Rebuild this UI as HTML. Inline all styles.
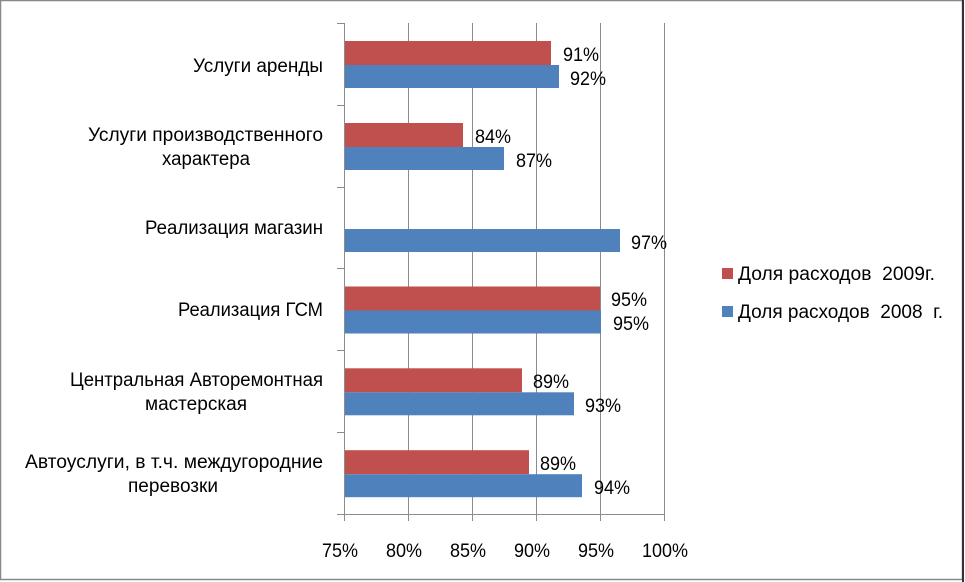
<!DOCTYPE html>
<html><head><meta charset="utf-8"><style>body{margin:0;background:#fff}svg{display:block}text{font-family:"Liberation Sans",sans-serif;fill:#000}</style></head><body>
<svg width="965" height="582" xmlns="http://www.w3.org/2000/svg">
<rect x="0.5" y="0.5" width="962" height="579" fill="#fff" stroke="#888" stroke-width="1.5"/>
<line x1="963" y1="0" x2="963" y2="582" stroke="#333" stroke-width="2"/>
<g stroke="#8c8c8c" stroke-width="1">
<line x1="408.5" y1="23" x2="408.5" y2="521"/><line x1="472.5" y1="23" x2="472.5" y2="521"/><line x1="536.5" y1="23" x2="536.5" y2="521"/><line x1="600.5" y1="23" x2="600.5" y2="521"/><line x1="664.5" y1="23" x2="664.5" y2="521"/>
<line x1="344.5" y1="23" x2="344.5" y2="521"/>
<line x1="337" y1="23.5" x2="345" y2="23.5"/><line x1="337" y1="105.5" x2="345" y2="105.5"/><line x1="337" y1="187.5" x2="345" y2="187.5"/><line x1="337" y1="268.5" x2="345" y2="268.5"/><line x1="337" y1="350.5" x2="345" y2="350.5"/><line x1="337" y1="432.5" x2="345" y2="432.5"/><line x1="337" y1="514.5" x2="345" y2="514.5"/>
<line x1="344" y1="514.5" x2="665" y2="514.5"/>
</g>
<g fill="#c0504d">
<rect x="345" y="41" width="206" height="24"/>
<rect x="345" y="123" width="118" height="24"/>
<rect x="345" y="286.5" width="255" height="24"/>
<rect x="345" y="368.3" width="177" height="24"/>
<rect x="345" y="450.2" width="184" height="24"/>
</g>
<g fill="#4f81bd">
<rect x="345" y="65" width="214" height="23"/>
<rect x="345" y="147" width="159" height="23"/>
<rect x="345" y="229" width="275" height="23"/>
<rect x="345" y="310.5" width="256" height="23"/>
<rect x="345" y="392.3" width="229" height="23"/>
<rect x="345" y="474.2" width="237" height="23"/>
</g>
<g font-size="19" lengthAdjust="spacingAndGlyphs">
<text x="563" y="61" textLength="36" lengthAdjust="spacingAndGlyphs">91%</text><text x="570" y="85" textLength="36" lengthAdjust="spacingAndGlyphs">92%</text>
<text x="475" y="143" textLength="36" lengthAdjust="spacingAndGlyphs">84%</text><text x="516" y="167" textLength="36" lengthAdjust="spacingAndGlyphs">87%</text>
<text x="631" y="249" textLength="36" lengthAdjust="spacingAndGlyphs">97%</text>
<text x="611" y="306" textLength="36" lengthAdjust="spacingAndGlyphs">95%</text><text x="613" y="330" textLength="36" lengthAdjust="spacingAndGlyphs">95%</text>
<text x="533" y="388" textLength="36" lengthAdjust="spacingAndGlyphs">89%</text><text x="585" y="412" textLength="36" lengthAdjust="spacingAndGlyphs">93%</text>
<text x="540" y="470" textLength="36" lengthAdjust="spacingAndGlyphs">89%</text><text x="594" y="494" textLength="36" lengthAdjust="spacingAndGlyphs">94%</text>
</g>
<g font-size="19">
<text x="193" y="72" textLength="130" lengthAdjust="spacingAndGlyphs">Услуги аренды</text>
<text x="88" y="141" textLength="235" lengthAdjust="spacingAndGlyphs">Услуги производственного</text><text x="206" y="165" text-anchor="middle" textLength="88" lengthAdjust="spacingAndGlyphs">характера</text>
<text x="145" y="234" textLength="178" lengthAdjust="spacingAndGlyphs">Реализация магазин</text>
<text x="178" y="316" textLength="145" lengthAdjust="spacingAndGlyphs">Реализация ГСМ</text>
<text x="70" y="386" textLength="253" lengthAdjust="spacingAndGlyphs">Центральная Авторемонтная</text><text x="196" y="410" text-anchor="middle" textLength="102" lengthAdjust="spacingAndGlyphs">мастерская</text>
<text x="25" y="468" textLength="298" lengthAdjust="spacingAndGlyphs">Автоуслуги, в т.ч. междугородние</text><text x="173" y="492" text-anchor="middle" textLength="90" lengthAdjust="spacingAndGlyphs">перевозки</text>
</g>
<g font-size="19">
<text x="322" y="557" textLength="36" lengthAdjust="spacingAndGlyphs">75%</text><text x="386" y="557" textLength="36" lengthAdjust="spacingAndGlyphs">80%</text><text x="450" y="557" textLength="36" lengthAdjust="spacingAndGlyphs">85%</text><text x="514" y="557" textLength="36" lengthAdjust="spacingAndGlyphs">90%</text><text x="578" y="557" textLength="36" lengthAdjust="spacingAndGlyphs">95%</text><text x="642" y="557" textLength="46" lengthAdjust="spacingAndGlyphs">100%</text>
</g>
<rect x="722" y="268" width="11" height="11" fill="#c0504d"/>
<rect x="722" y="306" width="11" height="11" fill="#4f81bd"/>
<g font-size="19">
<text x="738" y="280" textLength="197" lengthAdjust="spacingAndGlyphs" xml:space="preserve">Доля расходов  2009г.</text>
<text x="738" y="318" textLength="205" lengthAdjust="spacingAndGlyphs" xml:space="preserve">Доля расходов  2008  г.</text>
</g>
</svg>
</body></html>
